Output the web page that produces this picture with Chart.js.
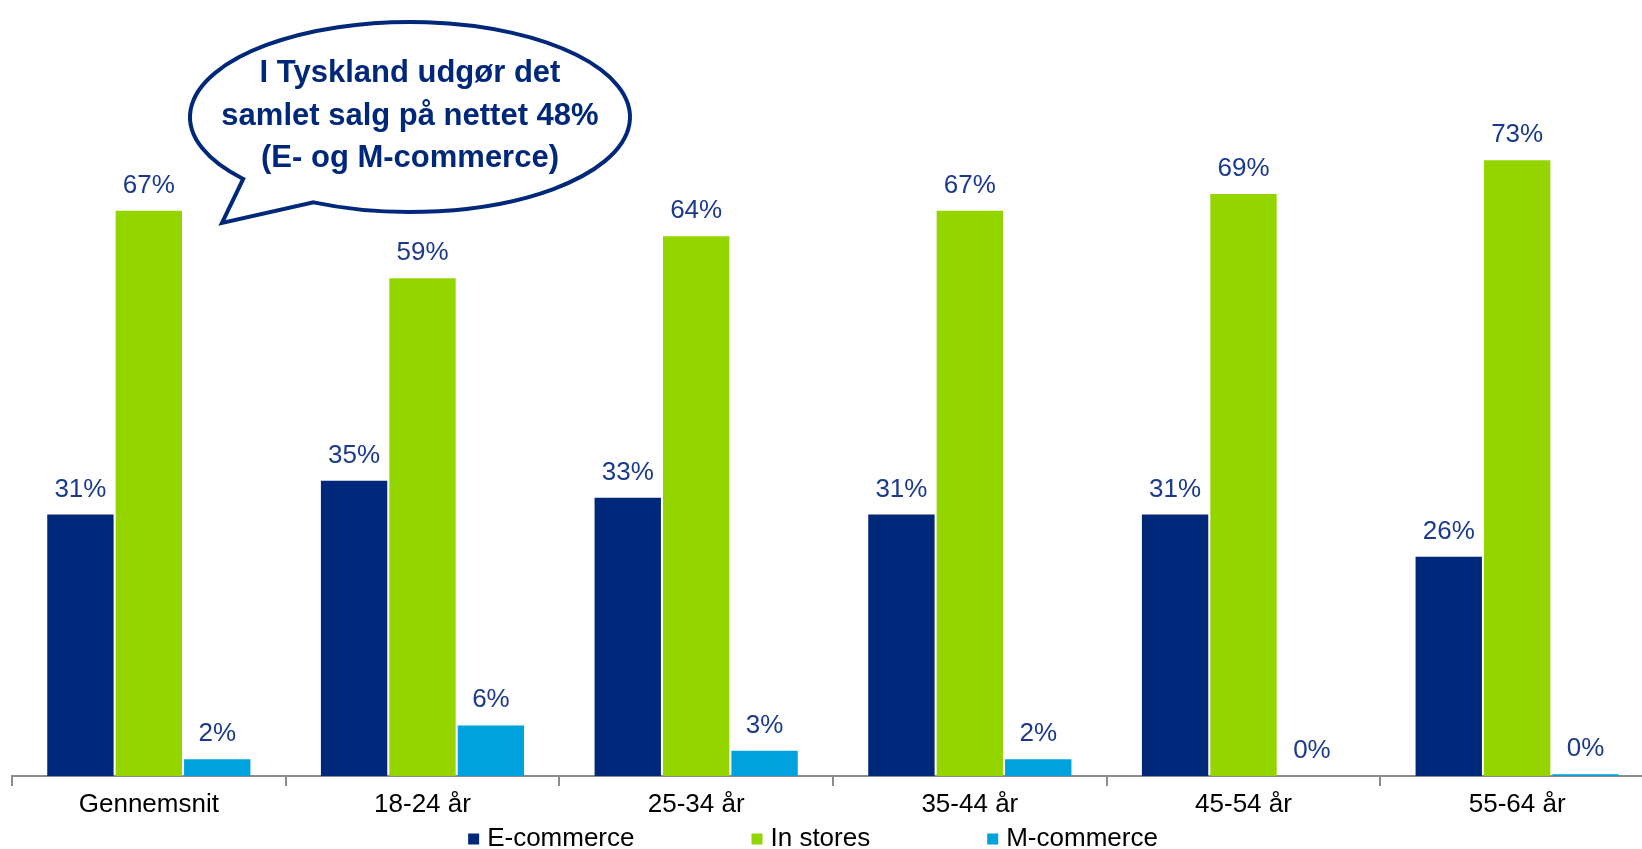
<!DOCTYPE html>
<html>
<head>
<meta charset="utf-8">
<script src="https://cdn.jsdelivr.net/npm/chart.js@4/dist/chart.umd.min.js"></script>
<style>
    html, body { margin: 0; padding: 0; background: #fff; overflow: hidden; }
    #wrap { position: relative; width: 1654px; height: 849px; }
</style>
</head>
<body>
<div id="wrap"><canvas id="salesChart"></canvas></div>
<script>
// Kategorier og værdier (%)
const categories = ['Gennemsnit', '18-24 år', '25-34 år', '35-44 år', '45-54 år', '55-64 år'];
const eCommerce = [31, 35, 33, 31, 31, 26];
const inStores = [67, 59, 64, 67, 69, 73];
const mCommerce = [2, 6, 3, 2, 0, 0.2];
const seriesNames = ['E-commerce', 'In stores', 'M-commerce'];
const bubbleLines = ['I Tyskland udgør det', 'samlet salg på nettet 48%', '(E- og M-commerce)'];

const NAVY = '#00287a';
const GREEN = '#94d500';
const CYAN = '#00a2de';
const LABEL_COLOR = '#1b3a8c';
const FONT = '"Liberation Sans", Arial, sans-serif';

// Procent-labels over søjlerne
const valueLabels = {
    id: 'valueLabels',
    afterDatasetsDraw(chart) {
        const ctx = chart.ctx;
        ctx.save();
        ctx.font = '26px ' + FONT;
        ctx.fillStyle = LABEL_COLOR;
        ctx.textAlign = 'center';
        ctx.textBaseline = 'alphabetic';
        chart.data.datasets.forEach((ds, i) => {
            chart.getDatasetMeta(i).data.forEach((bar, j) => {
                ctx.fillText(Math.round(ds.data[j]) + '%', bar.x, bar.y - 18);
            });
        });
        ctx.restore();
    }
};

// Forklaring nederst (små firkanter + tekst)
const bottomLegend = {
    id: 'bottomLegend',
    afterDraw(chart) {
        const ctx = chart.ctx;
        const box = 11, gap = 8, spacing = 117, centerX = 813, y = 839;
        ctx.save();
        ctx.font = '26px ' + FONT;
        ctx.textBaseline = 'middle';
        const items = chart.data.datasets.map(ds => ({
            text: ds.label, color: ds.backgroundColor, w: ctx.measureText(ds.label).width
        }));
        let total = items.reduce((s, it) => s + box + gap + it.w, 0) + spacing * (items.length - 1);
        let x = centerX - total / 2;
        items.forEach(it => {
            ctx.fillStyle = it.color;
            ctx.fillRect(x, y - box / 2, box, box);
            ctx.fillStyle = '#000';
            ctx.fillText(it.text, x + box + gap, y);
            x += box + gap + it.w + spacing;
        });
        ctx.restore();
    }
};

// Taleboble med kommentar
const speechBubble = {
    id: 'speechBubble',
    afterDraw(chart) {
        const ctx = chart.ctx;
        const cx = 410, cy = 117, rx = 220, ry = 95;
        const deg = Math.PI / 180;
        ctx.save();
        ctx.beginPath();
        ctx.ellipse(cx, cy, rx, ry, 0, 139.3 * deg, 116 * deg, false);
        ctx.lineTo(222, 223);
        ctx.closePath();
        ctx.fillStyle = '#fff';
        ctx.fill();
        ctx.lineWidth = 4;
        ctx.lineJoin = 'miter';
        ctx.strokeStyle = NAVY;
        ctx.stroke();

        ctx.font = 'bold 31px ' + FONT;
        ctx.fillStyle = NAVY;
        ctx.textAlign = 'center';
        ctx.textBaseline = 'alphabetic';
        bubbleLines.forEach((line, i) => {
            ctx.fillText(line, cx, 82 + i * 42.5);
        });
        ctx.restore();
    }
};

const ctx = document.getElementById('salesChart').getContext('2d');
new Chart(ctx, {
    type: 'bar',
    data: {
        labels: categories,
        datasets: [
            { label: seriesNames[0], data: eCommerce, backgroundColor: NAVY },
            { label: seriesNames[1], data: inStores, backgroundColor: GREEN },
            { label: seriesNames[2], data: mCommerce, backgroundColor: CYAN }
        ]
    },
    options: {
        responsive: true,
        maintainAspectRatio: false,
        animation: false,
        devicePixelRatio: 1,
        categoryPercentage: 0.75,
        barPercentage: 0.97,
        layout: { padding: { left: 12, right: 0, top: 0, bottom: 0 } },
        plugins: {
            legend: { display: false },
            tooltip: { enabled: false }
        },
        scales: {
            x: {
                afterFit: scale => { scale.height = 73; },
                border: { color: '#8c8c8c', width: 2 },
                grid: {
                    offset: true,
                    drawOnChartArea: false,
                    drawTicks: true,
                    tickLength: 10,
                    color: '#8c8c8c',
                    lineWidth: 2
                },
                ticks: {
                    color: '#000',
                    padding: 3,
                    font: { family: FONT, size: 26 },
                    maxRotation: 0,
                    autoSkip: false
                }
            },
            y: {
                display: false,
                min: 0,
                max: 92
            }
        }
    },
    plugins: [valueLabels, bottomLegend, speechBubble]
});
</script>
</body>
</html>
